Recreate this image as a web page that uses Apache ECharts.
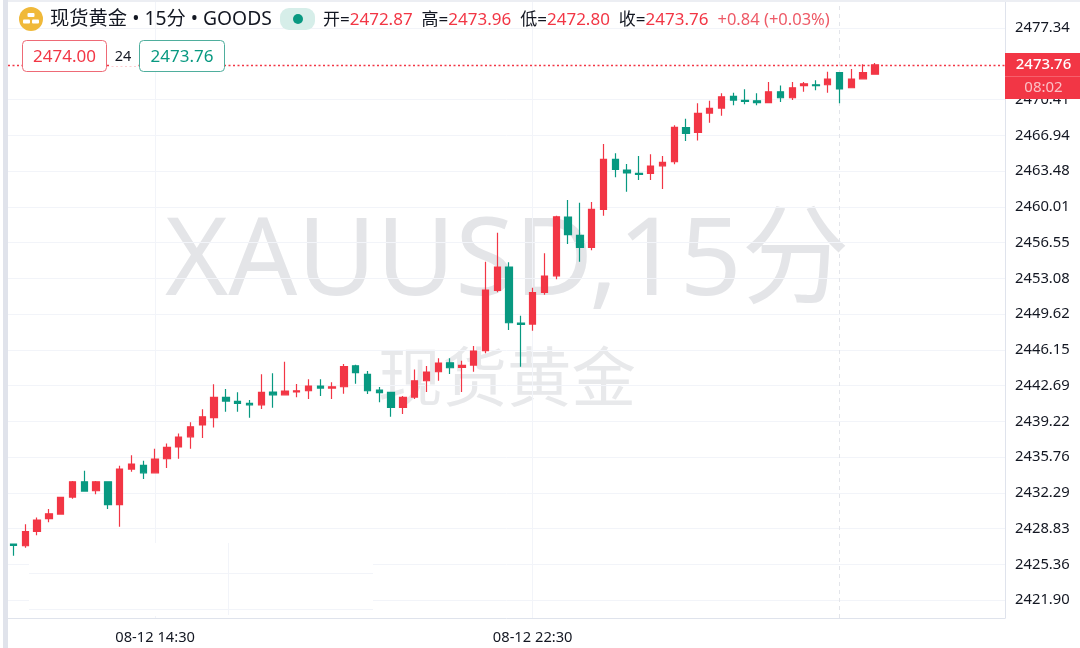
<!DOCTYPE html>
<html><head><meta charset="utf-8">
<style>html,body{margin:0;padding:0;background:#fff}#c{width:1080px;height:648px}</style>
<script src="https://cdn.jsdelivr.net/npm/echarts@6/dist/echarts.min.js"></script>
</head><body><div id="c"></div>
<script>
const opens=[2427.34,2427.17,2428.57,2429.79,2430.24,2431.89,2433.37,2432.50,2433.37,2431.15,2434.60,2434.96,2434.24,2435.60,2436.74,2437.73,2438.87,2439.58,2441.55,2441.16,2440.97,2440.83,2442.07,2441.80,2442.07,2442.19,2442.65,2442.45,2442.58,2444.61,2443.78,2442.26,2442.04,2440.58,2441.58,2443.16,2444.03,2444.90,2444.46,2444.68,2446.07,2451.92,2454.18,2448.75,2448.65,2451.73,2453.33,2459.02,2457.25,2456.09,2459.77,2464.61,2463.58,2463.26,2463.26,2463.99,2464.38,2467.68,2467.23,2469.10,2469.58,2470.72,2470.33,2470.29,2470.10,2471.16,2470.58,2471.75,2471.84,2471.84,2473.01,2471.55,2472.42,2472.87];
const closes=[2427.21,2428.53,2429.66,2430.27,2431.86,2433.37,2432.47,2433.37,2431.15,2434.60,2435.09,2434.24,2435.57,2436.71,2437.70,2438.70,2439.67,2441.55,2441.19,2440.97,2440.83,2442.04,2441.80,2442.16,2442.19,2442.65,2442.45,2442.58,2444.52,2443.94,2442.19,2442.00,2440.58,2441.55,2443.16,2444.00,2444.88,2444.42,2444.65,2446.04,2451.95,2454.18,2448.78,2448.63,2451.69,2453.31,2459.05,2457.31,2456.09,2459.77,2464.61,2463.64,2463.29,2463.16,2463.96,2464.32,2467.71,2467.13,2469.07,2469.56,2470.68,2470.36,2470.23,2470.10,2471.16,2470.58,2471.55,2471.94,2471.75,2472.39,2471.43,2472.39,2473.01,2473.76];
const lows=[2426.20,2426.98,2428.18,2429.44,2430.18,2431.73,2432.40,2432.15,2430.73,2429.01,2434.34,2433.63,2434.22,2434.70,2435.60,2436.57,2437.61,2438.64,2440.16,2440.16,2439.58,2440.42,2440.54,2441.77,2441.55,2441.39,2441.68,2441.39,2441.90,2442.87,2441.87,2441.07,2439.67,2439.93,2441.39,2442.07,2443.16,2443.81,2442.07,2444.03,2445.82,2451.73,2448.07,2444.52,2448.00,2451.49,2452.99,2456.41,2454.69,2455.80,2459.15,2462.87,2461.47,2462.61,2462.61,2461.74,2464.13,2466.39,2466.45,2468.16,2468.84,2469.85,2469.94,2469.85,2470.07,2470.17,2470.36,2471.16,2471.30,2471.07,2470.04,2471.52,2472.39,2472.80];
const highs=[2427.40,2429.25,2429.92,2430.73,2431.90,2433.44,2434.44,2433.44,2433.40,2434.92,2435.93,2435.41,2436.57,2437.09,2438.06,2439.13,2440.39,2442.81,2442.36,2442.04,2441.29,2443.78,2443.88,2445.00,2442.84,2443.30,2443.30,2443.01,2444.78,2444.70,2444.10,2442.55,2442.10,2441.68,2444.26,2444.58,2445.33,2445.33,2445.10,2446.52,2454.69,2457.50,2454.63,2449.46,2452.17,2455.51,2459.15,2460.67,2460.41,2460.48,2466.10,2465.20,2464.16,2464.93,2465.10,2464.93,2467.91,2468.55,2470.04,2470.29,2471.01,2471.07,2471.40,2471.01,2472.10,2471.78,2472.10,2472.10,2472.27,2473.10,2473.04,2473.36,2473.82,2473.96];
const priceTicks=[2477.34,2470.41,2466.94,2463.48,2460.01,2456.55,2453.08,2449.62,2446.15,2442.69,2439.22,2435.76,2432.29,2428.83,2425.36,2421.90];
const timeTickIndex=[12,44];
const timeTickLabels=['08-12 14:30','08-12 22:30'];
const lastClose=2473.76, crossIndex=70;
const headerName='现货黄金 • 15分 • GOODS';
const ohlcText=[['开=','2472.87'],['高=','2473.96'],['低=','2472.80'],['收=','2473.76']];
const changeText='+0.84 (+0.03%)';
const bid='2474.00', spread='24', ask='2473.76', countdown='08:02';
const wmBig='XAUUSD,15分', wmSmall='现货黄金';

const RED='#F23645', GREEN='#089981', GRID='#f2f4f9', AXIS='#dfe3ec', INK='#131722';
const FONT='"Noto Sans","Noto Sans CJK SC",sans-serif';
const rows=opens.map((o,i)=>[i,o,closes[i],lows[i],highs[i]]);

const rich={k:{fontSize:17,fontFamily:FONT,fill:INK},v:{fontSize:17,fontFamily:FONT,fill:RED},g:{width:9},c:{fontSize:16.5,fontFamily:FONT,fill:'#ee5a67'}};
let ohlc=ohlcText.map(p=>`{k|${p[0]}}{v|${p[1]}}{g|}`).join('')+`{c|${changeText}}`;

const chart=echarts.init(document.getElementById('c'));
chart.setOption({
 animation:false,backgroundColor:'#fff',
 grid:{left:8,right:75,top:2,bottom:30},
 xAxis:{type:'value',min:-0.466,max:84.03,
  axisLine:{show:true,onZero:false,lineStyle:{color:AXIS,width:1}},
  axisTick:{show:false,customValues:timeTickIndex},
  axisLabel:{customValues:timeTickIndex,color:INK,fontSize:14.7,fontFamily:FONT,margin:12,
    formatter:v=>timeTickLabels[timeTickIndex.indexOf(v)]||''},
  splitLine:{show:true,lineStyle:{color:GRID,width:1}}},
 yAxis:{type:'value',position:'right',min:2420.17,max:2479.86,scale:true,
  axisLine:{show:true,onZero:false,lineStyle:{color:AXIS,width:1}},
  axisTick:{show:false,customValues:priceTicks},
  axisLabel:{customValues:priceTicks,color:INK,fontSize:14.8,fontFamily:FONT,margin:10,padding:[4,0,0,0],
    formatter:v=>v.toFixed(2)},
  splitLine:{show:true,lineStyle:{color:GRID,width:1}}},
 series:[{type:'candlestick',data:rows,encode:{x:0,y:[1,2,3,4]},barWidth:7,z:3,
  itemStyle:{color:RED,color0:GREEN,borderColor:RED,borderColor0:GREEN,borderWidth:1.2},
  markLine:{silent:true,symbol:'none',animation:false,z:2,label:{show:false},
   lineStyle:{color:RED,opacity:1},
   data:[
    {yAxis:lastClose,lineStyle:{color:RED,type:[2,2.5],width:1.3,opacity:1}},
    {xAxis:crossIndex,lineStyle:{color:'#e3e5ea',type:[4,4],width:1,opacity:1}}
   ]}}],
 graphic:{elements:[
  // watermark
  {type:'text',z:-1,silent:true,x:165,y:264,style:{text:wmBig,font:'108px '+FONT,fill:'#e4e5e8',verticalAlign:'middle'}},
  {type:'text',z:-1,silent:true,x:378,y:383,style:{text:wmSmall,font:'64.5px '+FONT,fill:'#e8e9eb',verticalAlign:'middle'}},
  // pasted-over patch
  {type:'rect',z:1,silent:true,shape:{x:29,y:543,width:344,height:73},style:{fill:'#fff'}},
  {type:'line',z:1,silent:true,shape:{x1:29,y1:573.5,x2:373,y2:573.5},style:{stroke:GRID}},
  {type:'line',z:1,silent:true,shape:{x1:29,y1:609.5,x2:373,y2:609.5},style:{stroke:GRID}},
  {type:'line',z:1,silent:true,shape:{x1:228.5,y1:543,x2:228.5,y2:615},style:{stroke:GRID}},
  // frame
  {type:'rect',z:5,silent:true,shape:{x:3,y:0,width:5,height:648},style:{fill:'#e0e3eb'}},
  {type:'rect',z:5,silent:true,shape:{x:8,y:0,width:1072,height:2},style:{fill:'#eceef3'}},
  // header
  {type:'circle',z:6,shape:{cx:31,cy:19,r:12},style:{fill:'#F0B93A'}},
  {type:'rect',z:7,shape:{x:27.5,y:13,width:7,height:4,r:1},style:{fill:'#fff'}},
  {type:'rect',z:7,shape:{x:23,y:19.5,width:7,height:4,r:1},style:{fill:'#fff'}},
  {type:'rect',z:7,shape:{x:32,y:19.5,width:7,height:4,r:1},style:{fill:'#fff'}},
  {type:'text',z:6,x:50,y:20,style:{text:headerName,font:'19.3px '+FONT,fill:INK,verticalAlign:'middle'}},
  {type:'rect',z:6,shape:{x:280,y:8,width:35,height:22,r:9},style:{fill:'#d6eee9'}},
  {type:'circle',z:7,shape:{cx:298,cy:19,r:5},style:{fill:GREEN}},
  {type:'text',z:6,x:323,y:20,style:{text:ohlc,rich:rich,font:'17px '+FONT,fill:INK,verticalAlign:'middle'}},
  // order buttons
  {type:'rect',z:6,shape:{x:22.5,y:40.5,width:84,height:31,r:4},style:{fill:'#fff',stroke:'#ee6a76',lineWidth:1}},
  {type:'text',z:7,x:64.5,y:57,style:{text:bid,font:'17px '+FONT,fill:RED,align:'center',verticalAlign:'middle'}},
  {type:'rect',z:6,shape:{x:110,y:48,width:26,height:18},style:{fill:'#fff'}},
  {type:'text',z:7,x:123,y:56.5,style:{text:spread,font:'14.5px '+FONT,fill:INK,align:'center',verticalAlign:'middle'}},
  {type:'rect',z:6,shape:{x:139.5,y:40.5,width:85,height:31,r:4},style:{fill:'#fff',stroke:'#4fae9d',lineWidth:1}},
  {type:'text',z:7,x:182,y:57,style:{text:ask,font:'17px '+FONT,fill:GREEN,align:'center',verticalAlign:'middle'}},
  // last-price tag
  {type:'rect',z:20,shape:{x:1005,y:53,width:75,height:46},style:{fill:RED}},
  {type:'line',z:21,shape:{x1:1005,y1:76.5,x2:1080,y2:76.5},style:{stroke:'#f6606c'}},
  {type:'text',z:21,x:1043.5,y:65,style:{text:lastClose.toFixed(2),font:'500 15px '+FONT,fill:'#fff',align:'center',verticalAlign:'middle'}},
  {type:'text',z:21,x:1043.5,y:88,style:{text:countdown,font:'15px '+FONT,fill:'#fbc0c5',align:'center',verticalAlign:'middle'}}
 ]}
});
</script></body></html>
